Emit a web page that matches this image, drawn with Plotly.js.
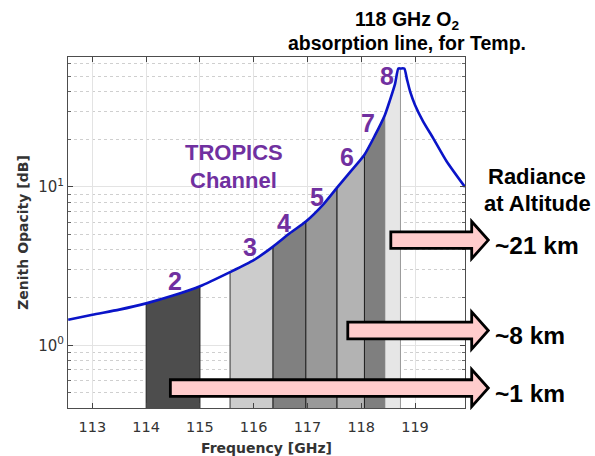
<!DOCTYPE html>
<html>
<head>
<meta charset="utf-8">
<script src="https://cdn.plot.ly/plotly-3.0.1.min.js"></script>
<style>html,body{margin:0;padding:0;background:#fff;}#chart{width:595px;height:456px;}</style>
</head>
<body>
<div id="chart"></div>
<script>
// ---- data ----
const freq = [112.55, 113.0, 113.5, 114.0, 114.5, 115.0, 115.56, 116.0, 116.36, 116.67, 116.97, 117.3, 117.55, 117.8, 118.06, 118.25, 118.44, 118.53, 118.63, 118.69, 118.73, 118.80, 118.85, 118.91, 119.0, 119.15, 119.34, 119.59, 119.93];
const opacity = [1.45, 1.56, 1.68, 1.84, 2.06, 2.36, 2.9, 3.45, 4.2, 5.1, 6.05, 7.8, 9.9, 12.5, 16.0, 21.0, 28.5, 35, 45, 56, 56, 56, 48, 40, 33, 26, 20.3, 14.5, 10.0];

const chLabel = ['2', '3', '4', '5', '6', '7', '8'];
const chLo = [114.0, 115.56, 116.36, 116.97, 117.55, 118.06, 118.44];
const chHi = [115.0, 116.36, 116.97, 117.55, 118.06, 118.44, 118.73];
// label anchor (frequency, opacity) for channel numbers
const chLabelFreq = [114.535, 115.928, 116.567, 117.17, 117.728, 118.13, 118.473];
const chLabelOpacity = [2.55, 4.19, 5.89, 8.69, 15.56, 25.29, 49.9];

const arrowLabel = ['~21 km', '~8 km', '~1 km'];
const arrowStartFreq = [118.55, 117.75, 114.45];
const arrowLevel = [4.62, 1.24, 0.537];

const xTickVals = [113, 114, 115, 116, 117, 118, 119];
const yTickVals = [1, 10];
const yTickText = ['10<sup>0</sup>', '10<sup>1</sup>'];

// ---- styles ----
const chFill = ['#4d4d4d', '#cccccc', '#808080', '#999999', '#b3b3b3', '#7f7f7f', '#e6e6e6'];
const chEdge = ['#222', '#333', '#222', '#222', '#222', '#222', '#9a9a9a'];
const purple = '#7030a0';
const xr = [112.546, 119.93];
const yr = [-0.396, 1.821];

const traces = [];
for (let i = 0; i < chLo.length; i++) {
  const xs = [chLo[i]], ys = [0.1];
  for (let k = 0; k < freq.length; k++) {
    if (freq[k] >= chLo[i] - 1e-9 && freq[k] <= chHi[i] + 1e-9) { xs.push(freq[k]); ys.push(opacity[k]); }
  }
  xs.push(chHi[i]); ys.push(0.1);
  xs.push(chLo[i]); ys.push(0.1);
  traces.push({x: xs, y: ys, type: 'scatter', mode: 'lines', fill: 'toself',
    fillcolor: chFill[i], line: {color: chEdge[i], width: 1}, hoverinfo: 'skip', showlegend: false});
}
traces.push({x: freq, y: opacity, type: 'scatter', mode: 'lines',
  line: {color: '#0a14c8', width: 2.6, shape: 'spline', smoothing: 0.6}, showlegend: false});

// helpers (pixel -> paper for free-floating decorations)
const PL = 68, PR = 465, PT = 57, PB = 408;
const pxX = x => (x - PL) / (PR - PL);
const pxY = y => (PB - y) / (PB - PT);
const fX = f => (f - xr[0]) / (xr[1] - xr[0]);
const vY = v => (Math.log10(v) - yr[0]) / (yr[1] - yr[0]);

const shapes = [];
const annotations = [];
const bodyH = 8.3 / (PB - PT), headH = 18.6 / (PB - PT);
const headX = pxX(471.7), tipX = pxX(488.3);
for (let i = 0; i < arrowLabel.length; i++) {
  const x0 = fX(arrowStartFreq[i]), yc = vY(arrowLevel[i]);
  const p = `M ${x0},${yc - bodyH} L ${headX},${yc - bodyH} L ${headX},${yc - headH} L ${tipX},${yc} L ${headX},${yc + headH} L ${headX},${yc + bodyH} L ${x0},${yc + bodyH} Z`;
  shapes.push({type: 'path', xref: 'paper', yref: 'paper', path: p, fillcolor: '#ffcccc',
    line: {color: '#000', width: 2.8}, layer: 'above'});
  annotations.push({xref: 'paper', yref: 'paper', x: pxX(493), y: yc, yshift: -5, xanchor: 'left', yanchor: 'middle',
    text: '<b>' + arrowLabel[i] + '</b>', showarrow: false, font: {family: 'Liberation Sans, Arial, sans-serif', size: 24.5, color: '#000'}});
}
for (let i = 0; i < chLabel.length; i++) {
  annotations.push({xref: 'x', yref: 'y', x: chLabelFreq[i], y: Math.log10(chLabelOpacity[i]), text: '<b>' + chLabel[i] + '</b>',
    showarrow: false, xanchor: 'center', yanchor: 'middle',
    font: {family: 'Liberation Sans, Arial, sans-serif', size: 25, color: purple}});
}
const bold = (s) => '<b>' + s + '</b>';
const txt = (x, y, s, size, color) => ({xref: 'paper', yref: 'paper', x: pxX(x), y: pxY(y), text: bold(s), showarrow: false,
  xanchor: 'center', yanchor: 'middle', font: {family: 'Liberation Sans, Arial, sans-serif', size: size, color: color}});
annotations.push(txt(234, 152, 'TROPICS', 22, purple));
annotations.push(txt(233.5, 180, 'Channel', 22, purple));
annotations.push(txt(537, 176, 'Radiance', 22, '#000'));
annotations.push(txt(537, 204, 'at Altitude', 22, '#000'));
annotations.push(txt(406.7, 20.5, '118 GHz O<sub>2</sub>', 19.5, '#000'));
annotations.push(txt(406.7, 42.5, 'absorption line, for Temp.', 19.5, '#000'));

const layout = {
  width: 595, height: 456,
  margin: {l: PL, r: 595 - PR, t: PT, b: 456 - PB, pad: 0},
  paper_bgcolor: '#fff', plot_bgcolor: '#fff',
  showlegend: false,
  xaxis: {range: xr, tickvals: xTickVals, ticks: 'inside', ticklen: 5, tickcolor: '#444',
    showline: true, linecolor: '#4d4d4d', linewidth: 1, mirror: 'ticks',
    showgrid: true, gridcolor: '#e3e3e3', gridwidth: 1, zeroline: false,
    ticklabelstandoff: 6,
    tickfont: {family: 'DejaVu Sans', size: 14.5, color: '#333'},
    title: {text: 'Frequency [GHz]', standoff: 8, font: {family: 'DejaVu Sans', size: 14, color: '#333', weight: 'bold'}}},
  yaxis: {type: 'log', range: yr, tickvals: yTickVals, ticktext: yTickText, ticks: 'inside', ticklen: 5, tickcolor: '#444',
    showline: true, linecolor: '#4d4d4d', linewidth: 1, mirror: 'ticks',
    showgrid: true, gridcolor: '#e3e3e3', gridwidth: 1, zeroline: false,
    minor: {tickvals: [0.5, 0.6, 0.7, 0.8, 0.9, 2, 3, 4, 5, 6, 7, 8, 9, 20, 30, 40, 50, 60],
      showgrid: true, gridcolor: '#cfcfcf', griddash: 'dot', gridwidth: 1, ticks: 'inside', ticklen: 3, tickcolor: '#666'},
    tickfont: {family: 'DejaVu Sans', size: 15, color: '#333'},
    title: {text: 'Zenith Opacity [dB]', standoff: 6, font: {family: 'DejaVu Sans', size: 14, color: '#333', weight: 'bold'}}},
  shapes: shapes,
  annotations: annotations
};
Plotly.newPlot('chart', traces, layout, {displayModeBar: false, staticPlot: true});
</script>
</body>
</html>
